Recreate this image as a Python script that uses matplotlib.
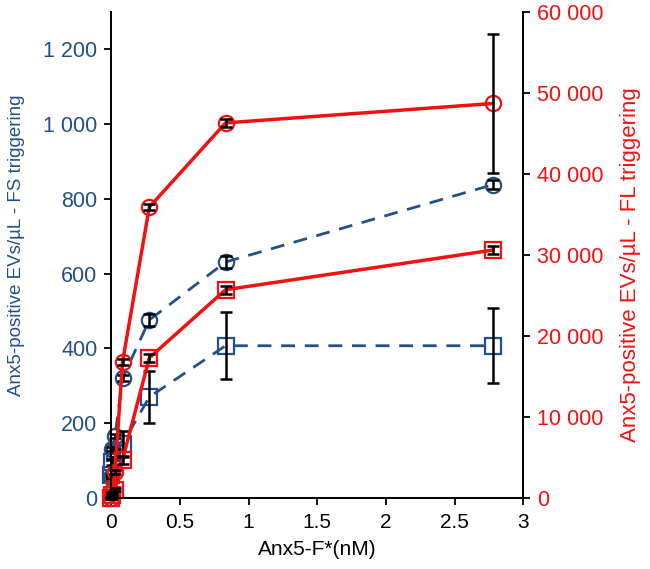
import numpy as np
import matplotlib.pyplot as plt
from matplotlib.ticker import FuncFormatter, MultipleLocator

plt.rcParams["font.family"] = ["Liberation Sans", "DejaVu Sans"]

# ----------------------------
# Data
# ----------------------------
conc = [0, 0.0093, 0.028, 0.083, 0.278, 0.833, 2.78]   # Anx5-F* (nM)

# FS triggering (left axis)
fs_circle = [55, 130, 165, 320, 476, 631, 838]
fs_circle_err = [4, 5, 6, 8, 15, 15, 12]
fs_square = [60, 95, 120, 145, 270, 407, 407]
fs_square_err = [5, 8, 10, 35, 70, 90, 100]

# FL triggering (right axis)
fl_circle = [0, 600, 3200, 16800, 35900, 46300, 48700]
fl_circle_err = [100, 150, 200, 400, 400, 500, 8600]
fl_square = [0, 300, 1000, 4700, 17300, 25700, 30600]
fl_square_err = [100, 100, 200, 500, 500, 500, 500]

blue = "#24508a"
red = "#f41010"


def spaced(v, pos):
    return f"{int(v):,}".replace(",", " ")


fig = plt.figure(figsize=(6.5, 5.69), dpi=100)
ax = fig.add_axes([0.171, 0.125, 0.634, 0.854])
ax2 = ax.twinx()

ms = 11
dash = (0, (5, 3.5))

for ys, err, mk in [(fs_circle, fs_circle_err, "o"), (fs_square, fs_square_err, "s")]:
    ax.plot(conc, ys, color=blue, lw=2, linestyle=dash, marker=mk, ms=ms,
            mfc="none", mec=blue, mew=1.6, zorder=2)
    ax.errorbar(conc, ys, yerr=err, fmt="none", ecolor="black", elinewidth=1.8,
                capsize=4, capthick=1.8, zorder=3)

for ys, err, mk in [(fl_circle, fl_circle_err, "o"), (fl_square, fl_square_err, "s")]:
    ax2.plot(conc, ys, color=red, lw=2.5, marker=mk, ms=ms,
             mfc="none", mec=red, mew=1.6, zorder=2)
    ax2.errorbar(conc, ys, yerr=err, fmt="none", ecolor="black", elinewidth=1.8,
                 capsize=4, capthick=1.8, zorder=3)

ax.set_xlim(0, 3)
ax.set_ylim(0, 1300)
ax2.set_ylim(0, 60000)
ax.set_xticks([0, 0.5, 1, 1.5, 2, 2.5, 3])
ax.set_xticklabels(["0", "0.5", "1", "1.5", "2", "2.5", "3"])
ax.yaxis.set_major_locator(MultipleLocator(200))
ax2.yaxis.set_major_locator(MultipleLocator(10000))
ax.yaxis.set_major_formatter(FuncFormatter(spaced))
ax2.yaxis.set_major_formatter(FuncFormatter(spaced))

for a in (ax, ax2):
    a.spines["top"].set_visible(False)
    for s in a.spines.values():
        s.set_linewidth(1.3)
    a.tick_params(direction="out", length=5, width=1.3, labelsize=15.5, pad=5)

ax.tick_params(axis="y", colors="black", labelcolor=blue)
ax2.tick_params(axis="y", colors="black", labelcolor=red)
ax.tick_params(axis="x", labelsize=15, pad=6)

ax.set_xlabel("Anx5-F*(nM)", fontsize=15, labelpad=6)
ax.set_ylabel("Anx5-positive EVs/\u00b5L - FS triggering", fontsize=13.5, color=blue, labelpad=13)
ax2.set_ylabel("Anx5-positive EVs/\u00b5L - FL triggering", fontsize=16, color=red, labelpad=12)
ax.yaxis.label.set_y(0.52)
ax2.yaxis.label.set_y(0.48)

for line in ax.lines + ax2.lines:
    line.set_clip_on(False)

fig.savefig("out.png", dpi=100)
